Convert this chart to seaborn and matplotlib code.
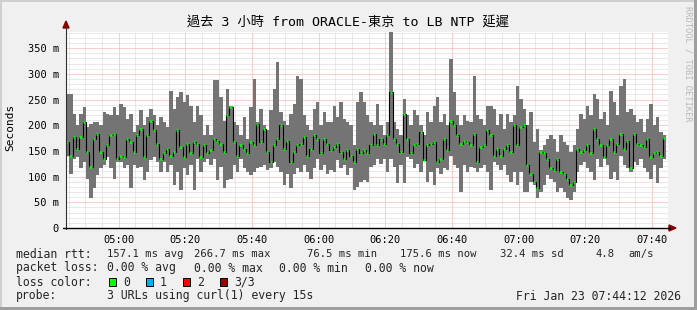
import numpy as np
import pandas as pd
import matplotlib
matplotlib.use("Agg")
import matplotlib.pyplot as plt
from matplotlib.lines import Line2D
from matplotlib.patches import Rectangle, Polygon
import seaborn as sns

# ---------------- data (ms, one value per 1-minute step, 04:44:12 -> 07:44:12) -------------
median_ms = [
    167, 141, 177, 154, 177, 206, 148, 119, 174, 183, 148, 135, 161, 180, 183, 135, 141, 138, 174, 167,
    148, 180, 193, 138, 180, 209, 190, 164, 135, 145, 154, 141, 148, 190, 158, 138, 164, 145, 167, 164,
    138, 161, 145, 151, 174,
    170, 164, 148, 219, 235, 167, 141, 161, 154, 145, 167, 161, 203, 167, 193, 148, 129, 161, 174, 200,
    154, 170, 129, 148, 161, 164, 177, 141, 154, 180, 174, 145, 174, 164, 151, 158, 164, 148, 135, 151,
    141, 129, 154, 145, 151,
    145, 161, 183, 161, 174, 164, 180, 264, 174, 164, 148, 222, 174, 145, 161, 164, 187, 132, 161, 164,
    167, 129, 135, 174, 151, 209, 200, 180, 164, 170, 167, 161, 183, 129, 158, 161, 190, 180, 141, 154,
    141, 154, 161, 148, 200,
    161, 196, 200, 122, 106, 90, 77, 148, 145, 135, 116, 112, 135, 109, 106, 96, 83, 90, 154, 148,
    151, 161, 145, 193, 174, 161, 138, 161, 174, 148, 164, 183, 154, 170, 116, 183, 164, 161, 158, 174,
    138, 145, 148, 141, 176,
]
smoke_low_ms = [
    141, 106, 135, 138, 116, 129, 96, 58, 77, 103, 116, 122, 138, 116, 96, 129, 129, 116, 122, 77,
    122, 116, 119, 93, 109, 132, 138, 129, 109, 129, 109, 122, 83, 109, 74, 116, 103, 122, 74, 135,
    109, 129, 135, 122, 135,
    93, 119, 77, 93, 96, 122, 109, 135, 116, 109, 103, 109, 116, 119, 122, 112, 116, 129, 119, 109,
    83, 106, 77, 106, 116, 109, 122, 109, 96, 116, 135, 112, 122, 106, 112, 109, 132, 116, 122, 103,
    116, 74, 80, 90, 93,
    90, 119, 122, 135, 125, 135, 109, 135, 119, 87, 122, 87, 138, 135, 116, 125, 109, 132, 90, 109,
    83, 116, 106, 116, 112, 141, 122, 116, 70, 122, 109, 119, 116, 109, 116, 122, 109, 74, 129, 122,
    112, 122, 103, 90, 109,
    83, 109, 70, 70, 90, 83, 58, 70, 83, 103, 96, 90, 70, 77, 70, 58, 55, 70, 109, 122,
    129, 116, 109, 93, 135, 119, 135, 122, 96, 109, 93, 141, 122, 116, 109, 129, 122, 135, 116, 109,
    96, 122, 87, 116, 135,
]
smoke_high_ms = [
    261, 261, 222, 200, 222, 235, 196, 203, 206, 206, 200, 225, 222, 219, 235, 219, 242, 235, 213, 222,
    187, 200, 229, 200, 216, 232, 219, 200, 216, 206, 196, 267, 232, 254, 264, 245, 258, 238, 206, 238,
    219, 180, 200, 180, 287,
    287, 254, 209, 271, 238, 206, 200, 180, 216, 174, 235, 290, 206, 232, 200, 190, 229, 271, 322, 225,
    209, 200, 222, 242, 296, 290, 219, 200, 190, 232, 245, 200, 225, 206, 206, 238, 216, 245, 213, 206,
    200, 161, 245, 264, 245,
    219, 206, 200, 242, 200, 180, 206, 387, 206, 193, 180, 251, 219, 200, 229, 219, 200, 180, 225, 206,
    238, 254, 206, 222, 200, 329, 264, 219, 200, 219, 209, 206, 296, 219, 213, 200, 238, 238, 232, 200,
    222, 193, 222, 206, 219,
    277, 251, 232, 200, 225, 167, 193, 151, 161, 174, 180, 174, 148, 180, 167, 161, 148, 161, 193, 222,
    213, 238, 219, 261, 251, 213, 225, 200, 267, 245, 219, 277, 290, 225, 232, 219, 206, 213, 187, 213,
    242, 200, 216, 187, 180,
]
start_minute = 44.2          # 04:44:12 expressed as minutes after 04:00
x_tick_minutes = [60, 80, 100, 120, 140, 160, 180, 200, 220]
x_tick_labels = ["05:00", "05:20", "05:40", "06:00", "06:20", "06:40", "07:00", "07:20", "07:40"]
y_tick_values = [0, 50, 100, 150, 200, 250, 300, 350]
y_tick_labels = ["0", "50 m", "100 m", "150 m", "200 m", "250 m", "300 m", "350 m"]
loss_colors = ["#00ff00", "#00b0f0", "#ff0000", "#9b0000"]
loss_labels = ["0", "1", "2", "3/3"]

title_text = "過去 3 小時 from ORACLE-東京 to LB NTP 延遲"
stats_rtt = ["157.1 ms avg", "266.7 ms max", "76.5 ms min", "175.6 ms now", "32.4 ms sd", "4.8", "am/s"]
stats_loss = ["0.00 % avg", "0.00 % max", "0.00 % min", "0.00 % now"]
probe_text = "3 URLs using curl(1) every 15s"
date_text = "Fri Jan 23 07:44:12 2026"

df = pd.DataFrame({
    "t": start_minute + np.arange(len(median_ms)),
    "median": median_ms,
    "low": smoke_low_ms,
    "high": smoke_high_ms,
})

# ---------------- figure ----------------
sns.set_style("white")
plt.rcParams["font.family"] = ["DejaVu Sans Mono", "Noto Sans CJK TC"]

W, H = 697, 310
fig = plt.figure(figsize=(W / 100, H / 100), dpi=100)
fig.patch.set_facecolor("#f0f0f0")

def fx(px):
    return px / W

def fy(py):
    return 1 - py / H

ax_left, ax_right, ax_top, ax_bottom = 66, 668, 32, 228
ax = fig.add_axes([fx(ax_left), fy(ax_bottom), fx(ax_right - ax_left), (ax_bottom - ax_top) / H])
ax.set_facecolor("white")
px_per_min = 600 / 180.0
ax.set_xlim(start_minute, start_minute + (ax_right - ax_left) / px_per_min)
ax.set_ylim(0, (ax_bottom - ax_top) / 0.514)

# grid
ax.set_xticks(x_tick_minutes)
ax.set_xticklabels(x_tick_labels)
ax.set_xticks(np.arange(45, 225, 5), minor=True)
ax.set_yticks(y_tick_values)
ax.set_yticklabels(y_tick_labels)
ax.set_yticks(np.arange(0, 381, 10), minor=True)
ax.set_axisbelow(True)
ax.grid(which="minor", color="#d4d4d4", linestyle=(0, (1, 1)), linewidth=0.72)
ax.grid(which="major", color="#f2a0a0", linestyle=(0, (1, 1)), linewidth=0.72)
ax.tick_params(which="minor", length=0)
ax.tick_params(which="major", length=1.5, width=0.7, color="#404040", labelsize=7.5, pad=3.5,
               labelcolor="#000000")
for s in ax.spines.values():
    s.set_visible(False)

# smoke
ax.bar(df["t"], df["high"] - df["low"], bottom=df["low"], width=1.0, align="edge",
       color="#747474", linewidth=0, zorder=2)
# median
sns.lineplot(data=df, x="t", y="median", drawstyle="steps-post", color="black", linewidth=0.8,
             estimator=None, sort=False, ax=ax, zorder=3)
ax.hlines(df["median"], df["t"] + 0.05, df["t"] + 0.7, colors=loss_colors[0], linewidth=1.8, zorder=4)
ax.set_xlabel("")
ax.set_ylabel("")

# axes lines with arrows
fig.add_artist(Line2D([fx(66), fx(66)], [fy(229), fy(27)], color="#303030", linewidth=0.8))
fig.add_artist(Line2D([fx(63), fx(670)], [fy(228), fy(228)], color="#000000", linewidth=1.0))
fig.add_artist(Polygon([[fx(63), fy(28)], [fx(69), fy(28)], [fx(66), fy(21)]], closed=True,
                       color="#8b0000", transform=fig.transFigure))
fig.add_artist(Polygon([[fx(669), fy(225)], [fx(669), fy(231)], [fx(676), fy(228)]], closed=True,
                       color="#8b0000", transform=fig.transFigure))

# frame shading
fig.add_artist(Rectangle((0, 0), fx(2), 1, transform=fig.transFigure, color="#cfcfcf", lw=0))
fig.add_artist(Rectangle((0, fy(2)), 1, 2 / H, transform=fig.transFigure, color="#cfcfcf", lw=0))
fig.add_artist(Rectangle((fx(694), 0), fx(3), 1, transform=fig.transFigure, color="#9e9e9e", lw=0))
fig.add_artist(Rectangle((0, 0), 1, 3 / H, transform=fig.transFigure, color="#9e9e9e", lw=0))

# title and labels
fig.text(fx(348), fy(22), title_text, ha="center", va="center", fontsize=9.5, color="#000000")
fig.text(fx(10), fy(127), "Seconds", rotation=90, ha="center", va="center", fontsize=8, color="#000000")
fig.text(fx(688), fy(6), "RRDTOOL / TOBI OETIKER", rotation=270, ha="center", va="top",
         fontsize=6.3, color="#b8b8b8")

# legend rows
LF = 8.3
RF = 7.6
row_y = [254, 268, 282, 296]
fig.text(fx(16), fy(row_y[0]), "median rtt:", va="center", fontsize=LF)
for txt, px in zip(stats_rtt, [107, 194, 307, 400, 500, 595, 628]):
    fig.text(fx(px), fy(row_y[0]), txt, va="center", fontsize=RF)
fig.text(fx(16), fy(row_y[1]), "packet loss:", va="center", fontsize=LF)
for txt, px in zip(stats_loss, [107, 194, 279, 365]):
    fig.text(fx(px), fy(row_y[1]), txt, va="center", fontsize=LF)
fig.text(fx(16), fy(row_y[2]), "loss color:", va="center", fontsize=LF)
for col, lab, bx, tx in zip(loss_colors, loss_labels, [109, 146, 183, 220], [123, 160, 197, 234]):
    fig.add_artist(Rectangle((fx(bx), fy(row_y[2] + 4)), 7 / W, 8 / H, transform=fig.transFigure,
                             facecolor=col, edgecolor="black", linewidth=0.7))
    fig.text(fx(tx), fy(row_y[2]), lab, va="center", fontsize=LF)
fig.text(fx(16), fy(row_y[3]), "probe:", va="center", fontsize=LF)
fig.text(fx(107), fy(row_y[3]), probe_text, va="center", fontsize=LF)
fig.text(fx(681), fy(row_y[3]), date_text, va="center", ha="right", fontsize=LF)

fig.savefig("out.png", dpi=100, facecolor=fig.get_facecolor())
